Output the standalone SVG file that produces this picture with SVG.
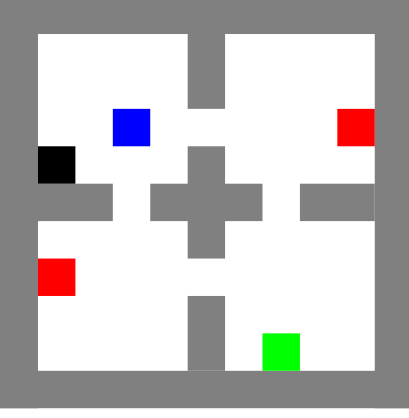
<svg xmlns="http://www.w3.org/2000/svg" width="409" height="418" viewBox="0 0 409 418">
  <style>
    .wall { fill: #808080; }
  </style>
  <rect x="0" y="0" width="409" height="418" fill="#ffffff"/>
  <g id="grid" transform="translate(0.56,-3.4) scale(37.42)">
    <g id="walls" class="wall">
      <rect x="-1" y="-1" width="13" height="2"/>
      <rect x="-1" y="10" width="13" height="1"/>
      <rect x="-1" y="-1" width="2" height="12"/>
      <rect x="10" y="-1" width="2" height="12"/>
      <rect x="5" y="1" width="1" height="2"/>
      <rect x="1" y="5" width="2" height="1"/>
      <rect x="4" y="5" width="3" height="1"/>
      <rect x="5" y="4" width="1" height="3"/>
      <rect x="8" y="5" width="2" height="1"/>
      <rect x="5" y="8" width="1" height="2"/>
    </g>
    <rect id="agent-blue" x="3" y="3" width="1" height="1" fill="#0000ff"/>
    <rect id="red-1" x="9" y="3" width="1" height="1" fill="#ff0000"/>
    <rect id="black" x="1" y="4" width="1" height="1" fill="#000000"/>
    <rect id="red-2" x="1" y="7" width="1" height="1" fill="#ff0000"/>
    <rect id="goal-green" x="7" y="9" width="1" height="1" fill="#00ff00"/>
  </g>
</svg>
